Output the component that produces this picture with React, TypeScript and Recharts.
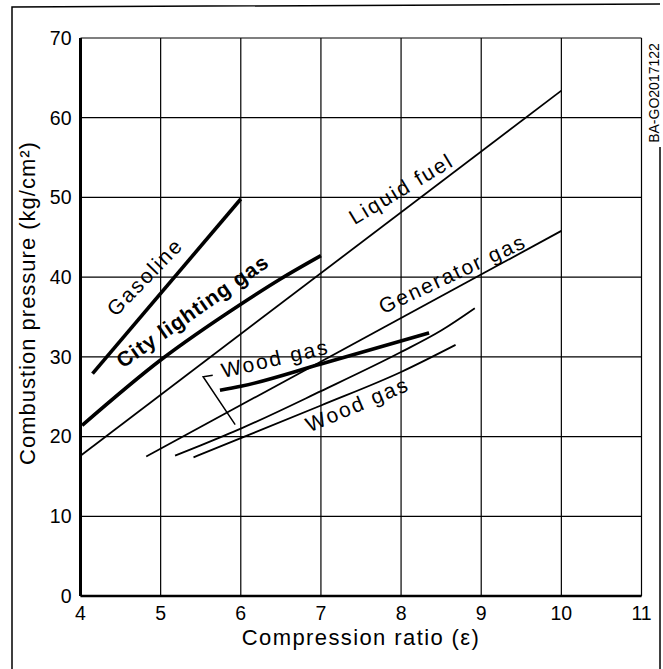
import React from 'react';
import { LineChart, Line, XAxis, YAxis, CartesianGrid, ReferenceDot } from 'recharts';

const FONT = '"Liberation Sans", Arial, Helvetica, sans-serif';

const xTicks = [4, 5, 6, 7, 8, 9, 10, 11];
const yTicks = [0, 10, 20, 30, 40, 50, 60, 70];

// curves (compression ratio -> kg/cm2)
const gasoline = [
  { x: 4.15, y: 27.9 },
  { x: 6.0, y: 49.8 },
];
const cityGas = [
  { x: 4.02, y: 21.4 },
  { x: 5.0, y: 29.6 },
  { x: 6.0, y: 36.6 },
  { x: 6.5, y: 39.8 },
  { x: 7.0, y: 42.7 },
];
const liquidFuel = [
  { x: 4.0, y: 17.6 },
  { x: 10.0, y: 63.4 },
];
const generatorGas = [
  { x: 4.82, y: 17.5 },
  { x: 10.0, y: 45.8 },
];
const woodGasThick = [
  { x: 5.74, y: 25.8 },
  { x: 6.0, y: 26.3 },
  { x: 7.0, y: 29.1 },
  { x: 8.35, y: 33.0 },
];
const woodGasA = [
  { x: 5.18, y: 17.6 },
  { x: 5.5, y: 18.9 },
  { x: 6.0, y: 21.0 },
  { x: 7.0, y: 25.7 },
  { x: 8.0, y: 30.6 },
  { x: 8.5, y: 33.3 },
  { x: 8.92, y: 36.1 },
];
const woodGasB = [
  { x: 5.41, y: 17.4 },
  { x: 6.0, y: 19.8 },
  { x: 7.0, y: 23.9 },
  { x: 8.0, y: 28.1 },
  { x: 8.68, y: 31.5 },
];
// leader from the upper "Wood gas" label
const bracket = [
  { x: 5.65, y: 27.7 },
  { x: 5.53, y: 27.5 },
  { x: 5.93, y: 21.5 },
];

const curveLabels = [
  { text: 'Gasoline', x: 4.87, y: 39.4 },
  { text: 'City lighting gas', x: 5.45, y: 35.0 },
  { text: 'Liquid fuel', x: 8.05, y: 50.3 },
  { text: 'Generator gas', x: 8.68, y: 39.6 },
  { text: 'Wood gas', x: 6.45, y: 28.9 },
  { text: 'Wood gas', x: 7.49, y: 23.2 },
];
const labelAngles = [-46, -35, -31, -25, -13, -23];
const boldLabel = [false, true, false, false, false, false];

const makeLabel = (text: string, angle: number, bold: boolean) => (props: any) => (
  <text
    x={props.cx}
    y={props.cy}
    transform={`rotate(${angle} ${props.cx} ${props.cy})`}
    textAnchor="middle"
    fontFamily={FONT}
    fontSize={21}
    fontWeight={bold ? 700 : 400}
    letterSpacing={bold ? 1 : 2}
    fill="#000"
  >
    {text}
  </text>
);

const tickStyle = { fill: '#000', fontSize: 19.5, fontFamily: FONT };

export default function App() {
  return (
    <div style={{ position: 'absolute', left: 0, top: 0, width: 663, height: 669, background: '#fff' }}>
      <LineChart width={663} height={669} margin={{ top: 38, right: 21.5, left: 0, bottom: 0 }}>
        <CartesianGrid stroke="#000" strokeWidth={1.2} />
        <XAxis
          dataKey="x"
          type="number"
          domain={[4, 11]}
          ticks={xTicks}
          allowDataOverflow
          height={73}
          tickSize={0}
          tickMargin={10}
          tick={tickStyle}
          axisLine={{ stroke: '#000', strokeWidth: 2.5 }}
          label={{
            value: 'Compression ratio (ε)',
            position: 'insideBottom',
            offset: 24,
            fill: '#000',
            fontSize: 22,
            fontFamily: FONT,
            letterSpacing: 1.4,
          }}
        />
        <YAxis
          type="number"
          domain={[0, 70]}
          ticks={yTicks}
          allowDataOverflow
          width={80.5}
          tickSize={0}
          tickMargin={9}
          tick={tickStyle}
          axisLine={{ stroke: '#000', strokeWidth: 3 }}
        />
        <Line data={liquidFuel} dataKey="y" type="linear" stroke="#000" strokeWidth={1.8} dot={false} isAnimationActive={false} />
        <Line data={generatorGas} dataKey="y" type="linear" stroke="#000" strokeWidth={1.8} dot={false} isAnimationActive={false} />
        <Line data={woodGasA} dataKey="y" type="monotone" stroke="#000" strokeWidth={1.8} dot={false} isAnimationActive={false} />
        <Line data={woodGasB} dataKey="y" type="monotone" stroke="#000" strokeWidth={1.8} dot={false} isAnimationActive={false} />
        <Line data={bracket} dataKey="y" type="linear" stroke="#000" strokeWidth={1.5} dot={false} isAnimationActive={false} />
        <Line data={gasoline} dataKey="y" type="linear" stroke="#000" strokeWidth={3.6} dot={false} isAnimationActive={false} />
        <Line data={cityGas} dataKey="y" type="monotone" stroke="#000" strokeWidth={3.6} dot={false} isAnimationActive={false} />
        <Line data={woodGasThick} dataKey="y" type="monotone" stroke="#000" strokeWidth={3.6} dot={false} isAnimationActive={false} />
        {curveLabels.map((l, i) => (
          <ReferenceDot
            key={i}
            x={l.x}
            y={l.y}
            r={0}
            shape={makeLabel(l.text, labelAngles[i], boldLabel[i])}
          />
        ))}
      </LineChart>
      <svg
        width={663}
        height={669}
        style={{ position: 'absolute', left: 0, top: 0, pointerEvents: 'none' }}
      >
        <polyline points="12,669 12,7 660,4" fill="none" stroke="#000" strokeWidth={1.5} />
        <line x1={660} y1={147} x2={660} y2={669} stroke="#000" strokeWidth={1.5} />
        <text
          x={35}
          y={303}
          transform="rotate(-90 35 303)"
          textAnchor="middle"
          fontFamily={FONT}
          fontSize={22}
          letterSpacing={1}
          fill="#000"
        >
          Combustion pressure (kg/cm²)
        </text>
        <text
          x={659}
          y={93}
          transform="rotate(-90 659 93)"
          textAnchor="middle"
          fontFamily={FONT}
          fontSize={14}
          fill="#000"
        >
          BA-GO2017122
        </text>
      </svg>
    </div>
  );
}
